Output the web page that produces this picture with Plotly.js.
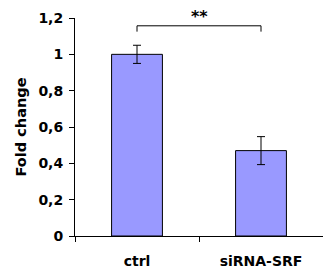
<!DOCTYPE html>
<html><head><meta charset="utf-8">
<script src="https://cdn.plot.ly/plotly-3.0.1.min.js"></script>
<style>html,body{margin:0;padding:0;background:#fff;}#chart{width:323px;height:271px;}</style>
</head><body><div id="chart"></div>
<script>
const categories = ["ctrl", "siRNA-SRF"];
const foldChange = [1.0, 0.47];
const errors = [0.05, 0.077];
const yTickVals = [0, 0.2, 0.4, 0.6, 0.8, 1, 1.2];
const yTickText = ["0", "0,2", "0,4", "0,6", "0,8", "1", "1,2"];
const sigLabel = "**";
const bracketY = 1.157;
const bracketDrop = 0.032;

const fam = "DejaVu Sans, Liberation Sans, Arial, sans-serif";
const trace = {
  type: "bar", x: categories, y: foldChange, width: 0.41,
  marker: {color: "#9999ff", line: {color: "#000", width: 1}},
  error_y: {type: "data", array: errors, visible: true, color: "#000", thickness: 1, width: 4}
};
const layout = {
  width: 323, height: 271,
  margin: {l: 75, r: 0, t: 18, b: 35},
  paper_bgcolor: "#fff", plot_bgcolor: "#fff",
  showlegend: false,
  font: {family: fam, size: 14, color: "#000"},
  xaxis: {
    range: [-0.5, 1.5], showline: true, linecolor: "#000", linewidth: 1,
    ticks: "outside", tickson: "boundaries", ticklen: 5, tickcolor: "#000",
    showgrid: false, zeroline: false,
    tickfont: {family: fam, size: 14, color: "#000", weight: "bold"},
    ticklabelstandoff: 12
  },
  yaxis: {
    range: [0, 1.2], showline: true, linecolor: "#000", linewidth: 1,
    ticks: "outside", ticklen: 5, tickcolor: "#000",
    tickvals: yTickVals, ticktext: yTickText,
    showgrid: false, zeroline: false,
    tickfont: {family: fam, size: 14, color: "#000", weight: "bold"},
    ticklabelstandoff: 3,
    title: {text: "Fold change", font: {family: fam, size: 14.5, color: "#000", weight: "bold"}, standoff: 8}
  },
  shapes: [
    {type: "path", xref: "x", yref: "y",
     path: "M 0," + (bracketY - bracketDrop) + " L 0," + bracketY + " L 1," + bracketY + " L 1," + (bracketY - bracketDrop),
     line: {color: "#000", width: 1}}
  ],
  annotations: [
    {xref: "x", yref: "y", x: 0.5, y: bracketY, text: sigLabel, showarrow: false,
     yanchor: "bottom", yshift: -2, font: {family: fam, size: 16, color: "#000", weight: "bold"}}
  ]
};
Plotly.newPlot("chart", [trace], layout, {displayModeBar: false, staticPlot: true});
</script>
</body></html>
